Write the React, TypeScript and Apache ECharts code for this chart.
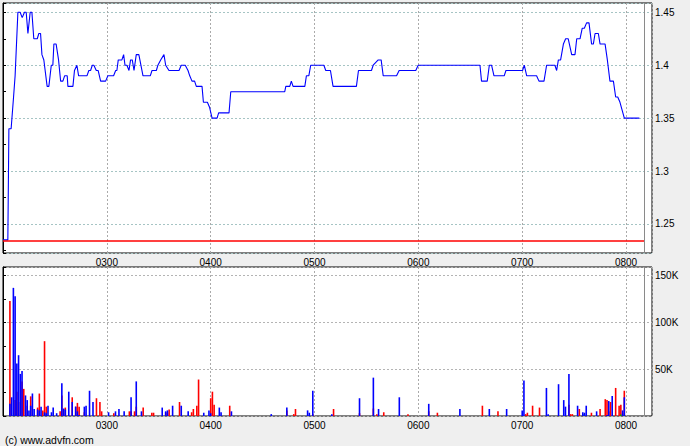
import React, { useEffect, useRef } from 'react';
import * as echarts from 'echarts';

// minutes since 02:00
const priceTimes = [0, 2.8, 3.4, 4.7, 6.1, 7.0, 8.6, 9.9, 11.1, 12.4, 13.4, 14.4, 15.7, 16.7, 17.8, 19.8, 20.7, 21.7, 22.5, 23.6, 25.5, 26.5, 27.9, 28.8, 29.4, 30.7, 32.1, 33.3, 34.6, 35.6, 37.1, 37.5, 40.4, 41.3, 42.7, 43.7, 48.5, 49.6, 50.6, 51.6, 52.5, 53.9, 55.0, 56.4, 59.3, 60.6, 63.9, 65.1, 65.8, 66.6, 68.7, 69.7, 70.5, 71.6, 72.8, 73.7, 74.7, 75.7, 77.0, 78.5, 80.9, 85.1, 86.1, 88.6, 89.5, 91.1, 93.0, 94.0, 95.9, 101.7, 103.0, 105.3, 106.9, 107.9, 109.2, 110.7, 111.7, 115.0, 115.8, 118.1, 119.4, 120.8, 123.7, 124.6, 130.6, 131.6, 162.8, 163.4, 165.7, 166.6, 167.6, 174.4, 175.3, 176.7, 177.8, 185.4, 186.5, 189.2, 190.7, 204.2, 205.4, 212.9, 213.9, 216.8, 218.5, 219.7, 227.4, 228.9, 238.5, 239.9, 275.6, 276.5, 279.8, 281.0, 282.3, 283.7, 289.6, 290.6, 300.2, 301.2, 302.6, 308.3, 309.7, 312.6, 314.1, 318.9, 319.9, 320.9, 322.2, 323.8, 325.1, 326.6, 328.6, 330.5, 331.5, 333.4, 334.7, 335.9, 337.2, 338.6, 340.1, 341.1, 342.1, 344.0, 345.0, 347.9, 349.2, 350.7, 352.7, 354.0, 355.2, 356.5, 359.0, 367.7];
const priceValues = [1.235, 1.235, 1.34, 1.34, 1.37, 1.39, 1.45, 1.45, 1.445, 1.45, 1.45, 1.43, 1.45, 1.45, 1.425, 1.425, 1.43, 1.43, 1.41, 1.405, 1.38, 1.38, 1.40, 1.40, 1.42, 1.42, 1.405, 1.385, 1.385, 1.39, 1.39, 1.38, 1.38, 1.395, 1.40, 1.39, 1.39, 1.395, 1.395, 1.40, 1.40, 1.395, 1.395, 1.385, 1.385, 1.39, 1.39, 1.395, 1.395, 1.405, 1.405, 1.41, 1.40, 1.40, 1.395, 1.405, 1.405, 1.395, 1.41, 1.41, 1.39, 1.39, 1.395, 1.395, 1.40, 1.405, 1.41, 1.40, 1.395, 1.395, 1.40, 1.40, 1.395, 1.39, 1.385, 1.385, 1.38, 1.38, 1.365, 1.365, 1.36, 1.35, 1.35, 1.355, 1.355, 1.375, 1.375, 1.38, 1.38, 1.385, 1.38, 1.38, 1.39, 1.39, 1.40, 1.40, 1.395, 1.395, 1.38, 1.38, 1.395, 1.395, 1.40, 1.405, 1.405, 1.39, 1.39, 1.395, 1.395, 1.40, 1.40, 1.385, 1.385, 1.40, 1.40, 1.39, 1.39, 1.395, 1.395, 1.40, 1.39, 1.39, 1.385, 1.385, 1.40, 1.40, 1.395, 1.405, 1.405, 1.42, 1.425, 1.425, 1.41, 1.41, 1.425, 1.425, 1.435, 1.435, 1.44, 1.44, 1.42, 1.42, 1.43, 1.43, 1.42, 1.42, 1.405, 1.385, 1.385, 1.37, 1.37, 1.365, 1.35, 1.35];

const prevClose = 1.2346;
const nowMinute = 370.6;

const volTimes = [4, 5, 6, 7, 8, 9, 10, 11, 12, 13, 14, 15, 16, 17, 18, 20, 21, 22, 23, 24, 25, 26, 28, 29, 31, 33, 34, 35, 36, 38, 40, 42, 43, 44, 47, 48, 50, 52, 54, 56, 57, 61, 64, 65, 67, 70, 73, 74, 76, 77, 80, 81, 86, 87, 92, 94, 95, 96, 98, 102, 103, 107, 109, 110, 112, 113, 116, 119, 120, 121, 122, 125, 126, 131, 132, 155, 164, 168, 169, 176, 177, 179, 190, 191, 206, 214, 216, 217, 220, 229, 234, 246, 251, 264, 277, 281, 286, 291, 300, 301, 302, 303, 306, 310, 314, 315, 321, 324, 325, 327, 328, 329, 332, 333, 335, 336, 337, 340, 343, 345, 348, 349, 350, 351, 352, 354, 356, 357, 358, 359];
// thousands of shares
const volRed = [123, 0, 0, 17, 26, 15, 0, 37, 29, 0, 11, 0, 21, 0, 0, 9, 24, 0, 6, 80, 10, 0, 0, 0, 0, 5, 22, 0, 9, 0, 20, 10, 14, 10, 4, 0, 0, 0, 19, 15, 5, 0, 3, 0, 0, 0, 5, 5, 5, 10, 0, 9, 3.5, 3.5, 0, 4, 3, 7, 0, 15, 0, 0, 4, 7.5, 11, 39, 0, 0, 19, 26, 12, 0, 0, 11, 0, 0, 6, 2, 7.5, 0, 0, 2, 0, 7.5, 3, 8, 2, 0, 4, 0, 2, 5, 3.5, 0, 11, 0, 5, 0, 0, 0, 2, 3.5, 11, 9, 0, 0, 0, 0, 0, 12, 2, 2, 0, 7.5, 0, 0, 0, 3.5, 0, 7.5, 18, 17, 5, 15, 0, 30, 11, 12, 3, 27];
const volGreen = [0, 0, 0, 1, 0, 0, 0, 0, 0, 0, 0, 0, 0, 0, 0, 0, 0, 0, 0, 1, 0, 0, 0, 0, 0, 0, 0, 0, 0, 0, 0, 0, 1, 0, 0, 0, 0, 0, 0, 0, 0, 0, 0, 0, 0, 0, 0, 1, 0, 0, 0, 0, 0, 0, 0, 1, 0, 0, 0, 0, 0, 0, 0, 0, 0, 0, 0, 0, 0, 0, 0, 0, 0, 0, 0, 0, 0, 0, 0, 0, 0, 0, 0, 0, 0, 1, 0, 0, 0, 0, 0, 0, 0, 0, 0, 0, 0, 0, 0, 0, 0, 0, 0, 0, 0, 0, 0, 0, 0, 0, 0, 0, 0, 0, 2, 0, 0, 0, 0, 0, 0, 0, 0, 0, 0, 0, 0, 1.5, 0, 1];
const volBlue = [13, 20, 137, 128, 56, 65, 45, 48, 0, 22, 17, 6, 11, 24, 7.5, 7, 6, 10, 0, 4, 3, 11, 4, 9, 3, 0, 35, 8, 7, 26, 15, 10, 5, 1, 10, 11, 27, 15, 0, 0, 0, 4, 0, 5, 7.5, 5, 0, 20, 0, 37, 5, 0, 0, 0, 9, 5, 6, 0, 11, 0, 11, 5, 0, 0, 0, 0, 3.5, 6, 3, 0, 0, 9, 4, 0, 5, 2, 9, 0, 0, 6, 3.5, 27, 2, 0, 19, 41, 0, 7.5, 0, 20, 0, 13, 0, 7.5, 0, 7.5, 0, 7.5, 6, 38, 0, 0, 0, 0, 30, 2, 34, 17, 10, 45, 0, 0, 11, 0, 4, 3.5, 11, 0, 5, 0, 0, 1, 16, 0, 21.5, 0, 0, 0, 6, 20];

const hourLabels = ['0200', '0300', '0400', '0500', '0600', '0700', '0800'];
const volTickLabels = ['', '50K', '100K', '150K'];

const FONT = 'Liberation Sans, Arial, sans-serif';

export default function App() {
  const ref = useRef<HTMLDivElement>(null);
  useEffect(() => {
    document.body.style.margin = '0';
    const chart = echarts.init(ref.current!, null, { renderer: 'svg' });

    const xFmt = (v: number) => (v > 0 && v % 60 === 0 && hourLabels[v / 60]) ? hourLabels[v / 60] : '';
    const vSplit = { show: true, lineStyle: { color: '#aaaaaa', type: [2, 2] as any, width: 1 } };
    const hSplit = { show: true, lineStyle: { color: '#a6c4c4', type: [2, 2] as any, width: 1 } };
    const labelStyle = { color: '#000', fontFamily: FONT, fontSize: 10 };

    const xCommon = (gridIndex: number) => ({
      type: 'value', gridIndex, min: 0, max: 375, interval: 60,
      axisLine: { show: false }, axisTick: { show: false },
      axisLabel: { ...labelStyle, margin: 4, formatter: xFmt, showMinLabel: false, showMaxLabel: false },
      splitLine: vSplit,
    });

    const volData = (arr: number[]) => volTimes.map((t, i) => [t, arr[i] * 1000]);
    const vLine = { xAxis: nowMinute, lineStyle: { color: '#8a8a8a', type: 'solid', width: 1 } };

    chart.setOption({
      animation: false,
      backgroundColor: '#efefef',
      textStyle: { fontFamily: FONT },
      grid: [
        { left: 3, top: 3, width: 649, height: 250, show: true, backgroundColor: '#fff', borderColor: '#000', borderWidth: 1 },
        { left: 3, top: 267, width: 649, height: 149, show: true, backgroundColor: '#fff', borderColor: '#000', borderWidth: 1 },
      ],
      xAxis: [xCommon(0), xCommon(1)],
      yAxis: [
        {
          type: 'value', gridIndex: 0, position: 'right', min: 1.2226, max: 1.4588, splitNumber: 5,
          axisLine: { show: true, lineStyle: { color: '#000' } },
          axisTick: { show: true, length: 3, lineStyle: { color: '#000' } },
          minorTick: { show: true, splitNumber: 2, length: 3, lineStyle: { color: '#000' } },
          axisLabel: { ...labelStyle, margin: 3, showMinLabel: false, showMaxLabel: false, formatter: (v: number) => String(parseFloat(v.toFixed(3))) },
          splitLine: hSplit,
        },
        {
          type: 'value', gridIndex: 0, position: 'left', min: 1.2226, max: 1.4588, splitNumber: 5,
          axisLine: { show: false },
          axisTick: { show: true, inside: true, length: 3, lineStyle: { color: '#000' } },
          minorTick: { show: true, splitNumber: 2, length: 3, lineStyle: { color: '#000' } },
          axisLabel: { show: false }, splitLine: { show: false },
        },
        {
          type: 'value', gridIndex: 1, position: 'right', min: 0, max: 159300, interval: 50000,
          axisLine: { show: true, lineStyle: { color: '#000' } },
          axisTick: { show: true, length: 3, lineStyle: { color: '#000' } },
          minorTick: { show: true, splitNumber: 2, length: 3, lineStyle: { color: '#000' } },
          axisLabel: { ...labelStyle, margin: 3, showMinLabel: false, showMaxLabel: false, formatter: (v: number) => volTickLabels[Math.round(v / 50000)] ?? '' },
          splitLine: { show: true, lineStyle: { color: '#b4b4b4', type: [2, 2] as any } },
        },
        {
          type: 'value', gridIndex: 1, position: 'left', min: 0, max: 159300, interval: 50000,
          axisLine: { show: false },
          axisTick: { show: true, inside: true, length: 3, lineStyle: { color: '#000' } },
          minorTick: { show: true, splitNumber: 2, length: 3, lineStyle: { color: '#000' } },
          axisLabel: { show: false }, splitLine: { show: false },
        },
      ],
      graphic: [
        { type: 'text', left: 5, top: 434, style: { text: '(c) www.advfn.com', font: `10.5px ${FONT}`, fill: '#000' } },
      ],
      series: [
        {
          type: 'line', xAxisIndex: 0, yAxisIndex: 0,
          data: priceTimes.map((t, i) => [t, priceValues[i]]),
          showSymbol: false, symbol: 'none',
          lineStyle: { color: '#0000ff', width: 1.1 },
          markLine: {
            silent: true, symbol: 'none', label: { show: false },
            data: [
              [{ coord: [0, prevClose], lineStyle: { color: '#ff0000', width: 1.5, type: 'solid' } }, { coord: [nowMinute, prevClose] }],
              vLine,
            ],
          },
          z: 3,
        },
        {
          type: 'bar', xAxisIndex: 1, yAxisIndex: 2, stack: 'vol', barWidth: 1.6,
          data: volData(volRed), itemStyle: { color: '#ff0000' },
          markLine: { silent: true, symbol: 'none', label: { show: false }, data: [vLine] },
        },
        {
          type: 'bar', xAxisIndex: 1, yAxisIndex: 2, stack: 'vol', barWidth: 1.6,
          data: volData(volGreen), itemStyle: { color: '#00aa00' },
        },
        {
          type: 'bar', xAxisIndex: 1, yAxisIndex: 2, stack: 'vol', barWidth: 1.6,
          data: volData(volBlue), itemStyle: { color: '#0000ff' },
        },
      ],
    });
    return () => chart.dispose();
  }, []);
  return <div ref={ref} style={{ width: 690, height: 446 }} />;
}
